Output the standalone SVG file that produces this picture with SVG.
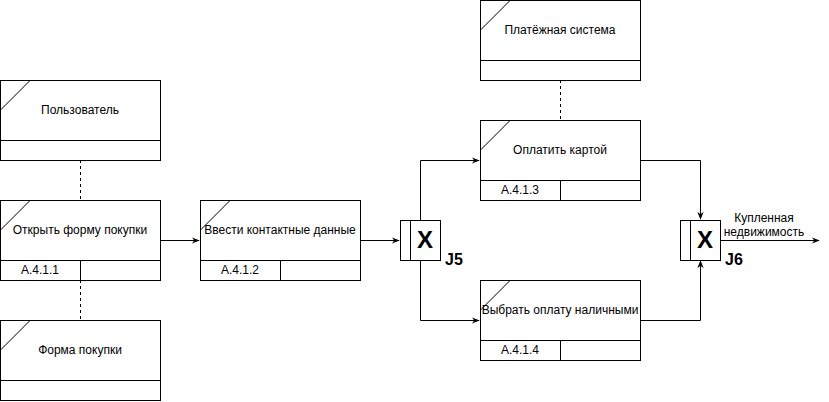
<svg xmlns="http://www.w3.org/2000/svg" width="829" height="402" viewBox="0 0 829 402">
<defs>
<marker id="arr" viewBox="0 0 10 10" refX="9" refY="5" markerWidth="8" markerHeight="8" markerUnits="userSpaceOnUse" orient="auto">
<path d="M0,1 L10,5 L0,9 L3,5 Z" fill="#000"/>
</marker>
<style>
.b{fill:#fff;stroke:#000;stroke-width:1}
.l{fill:none;stroke:#000;stroke-width:1}
.d{fill:none;stroke:#000;stroke-width:1;stroke-dasharray:3,3}
.t{font-family:"Liberation Sans",Arial,sans-serif;font-size:12px;fill:#000;text-anchor:middle;dominant-baseline:central}
.j{font-family:"Liberation Sans",Arial,sans-serif;font-size:24px;font-weight:bold;fill:#000;text-anchor:middle}
.jl{font-family:"Liberation Sans",Arial,sans-serif;font-size:16px;font-weight:bold;fill:#000}
</style>
</defs>
<rect width="829" height="402" fill="#fff"/>
<g id="connectors">
<path class="d" d="M80.5,160 V200"/>
<path class="d" d="M80.5,280 V320"/>
<path class="d" d="M560.5,80 V120"/>
<path class="l" d="M160,240.5 H199" marker-end="url(#arr)"/>
<path class="l" d="M360,240.5 H399" marker-end="url(#arr)"/>
<path class="l" d="M420.5,220 V160.5 H479" marker-end="url(#arr)"/>
<path class="l" d="M420.5,260 V320.5 H479" marker-end="url(#arr)"/>
<path class="l" d="M640,160.5 H700.5 V219" marker-end="url(#arr)"/>
<path class="l" d="M640,320.5 H700.5 V261" marker-end="url(#arr)"/>
<path class="l" d="M720,240.5 H819" marker-end="url(#arr)"/>
<text class="t" x="764" y="218">Купленная</text>
<text class="t" x="764" y="232">недвижимость</text>
</g>
<g id="user">
<rect class="b" x="0.5" y="80.5" width="160" height="80"/>
<path class="l" d="M0.5,140.5 H160.5 M0.5,110 L30,80.5"/>
<text class="t" x="80" y="110">Пользователь</text>
</g>
<g id="a411">
<rect class="b" x="0.5" y="200.5" width="160" height="80"/>
<path class="l" d="M0.5,260.5 H160.5 M80.5,260.5 V280.5 M0.5,230 L30,200.5"/>
<text class="t" x="80" y="230">Открыть форму покупки</text>
<text class="t" x="40" y="270">A.4.1.1</text>
</g>
<g id="form">
<rect class="b" x="0.5" y="320.5" width="160" height="80"/>
<path class="l" d="M0.5,380.5 H160.5 M0.5,350 L30,320.5"/>
<text class="t" x="80" y="350">Форма покупки</text>
</g>
<g id="a412">
<rect class="b" x="200.5" y="200.5" width="160" height="80"/>
<path class="l" d="M200.5,260.5 H360.5 M280.5,260.5 V280.5 M200.5,230 L230,200.5"/>
<text class="t" x="280" y="230">Ввести контактные данные</text>
<text class="t" x="240" y="270">A.4.1.2</text>
</g>
<g id="j5">
<rect class="b" x="400.5" y="220.5" width="40" height="40"/>
<path class="l" d="M410.5,220.5 V260.5"/>
<text class="j" x="425" y="248">X</text>
<text class="jl" x="445" y="265">J5</text>
</g>
<g id="pay">
<rect class="b" x="480.5" y="0.5" width="160" height="80"/>
<path class="l" d="M480.5,60.5 H640.5 M480.5,30 L510,0.5"/>
<text class="t" x="560" y="30">Платёжная система</text>
</g>
<g id="a413">
<rect class="b" x="480.5" y="120.5" width="160" height="80"/>
<path class="l" d="M480.5,180.5 H640.5 M560.5,180.5 V200.5 M480.5,150 L510,120.5"/>
<text class="t" x="560" y="150">Оплатить картой</text>
<text class="t" x="520" y="190">A.4.1.3</text>
</g>
<g id="a414">
<rect class="b" x="480.5" y="280.5" width="160" height="80"/>
<path class="l" d="M480.5,340.5 H640.5 M560.5,340.5 V360.5 M480.5,310 L510,280.5"/>
<text class="t" x="560" y="310">Выбрать оплату наличными</text>
<text class="t" x="520" y="350">A.4.1.4</text>
</g>
<g id="j6">
<rect class="b" x="680.5" y="220.5" width="40" height="40"/>
<path class="l" d="M690.5,220.5 V260.5"/>
<text class="j" x="705" y="248">X</text>
<text class="jl" x="725" y="265">J6</text>
</g>
</svg>
